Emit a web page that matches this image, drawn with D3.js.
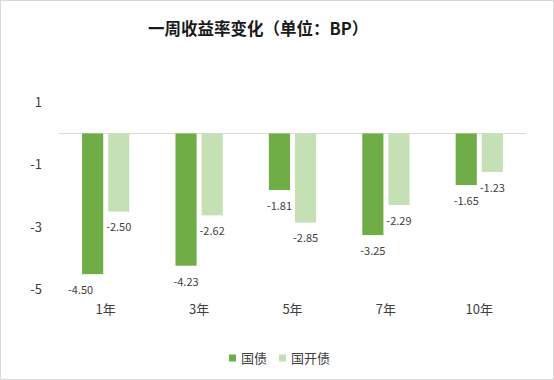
<!DOCTYPE html>
<html><head><meta charset="utf-8">
<script src="https://cdn.jsdelivr.net/npm/d3@7"></script>
<style>body{margin:0;background:#fff;}svg{display:block;}</style>
</head><body>
<script>
const categories = ["1年","3年","5年","7年","10年"];
const seriesNames = ["国债","国开债"];
const guozhai = [-4.50,-4.23,-1.81,-3.25,-1.65];
const guokaizhai = [-2.50,-2.62,-2.85,-2.29,-1.23];
const yTicks = [-5,-3,-1,1];
const colors = ["#70AD47","#C5E0B4"];
const title = "一周收益率变化（单位：BP）";

const W=554,H=380;
const font = "'Noto Sans CJK SC', 'Microsoft YaHei', sans-serif";
const svg = d3.select("body").append("svg").attr("width",W).attr("height",H);
svg.append("rect").attr("x",0.5).attr("y",0.5).attr("width",W-1).attr("height",H-1)
  .attr("fill","#fff").attr("stroke","#d9d9d9");

svg.append("text").attr("x",148).attr("y",35).attr("text-anchor","start")
  .attr("font-family",font).attr("font-weight","bold").attr("font-size",16.5).attr("fill","#1a1a1a").text(title);

const hy = s => s.replace("\u2212","-");
const x0 = d3.scaleBand().domain(categories).range([59,526]).paddingInner(0.494).paddingOuter(0.247);
const x1 = d3.scaleBand().domain(seriesNames).range([0,x0.bandwidth()]).paddingInner(0.19);
const y = d3.scaleLinear().domain([-5,1]).range([289.8,102.2]);

// zero line
svg.append("line").attr("x1",59).attr("x2",526).attr("y1",y(0)).attr("y2",y(0)).attr("stroke","#d9d9d9").attr("stroke-width",1);

// y axis labels
const yAxis = d3.axisLeft(y).tickValues(yTicks).tickSize(0).tickPadding(0).tickFormat(d=>hy(d3.format("d")(d)));
const gy = svg.append("g").attr("transform","translate(42,0)").call(yAxis);
gy.select(".domain").remove();
gy.selectAll("text").attr("font-family",font).attr("font-size",13).attr("fill","#404040");

// x axis labels
const xAxis = d3.axisBottom(x0.copy().paddingInner(0).paddingOuter(0)).tickSize(0).tickPadding(0);
const gx = svg.append("g").attr("transform","translate(0,305)").call(xAxis);
gx.select(".domain").remove();
gx.selectAll("text").attr("font-family",font).attr("font-size",13).attr("fill","#404040");

const series = [guozhai, guokaizhai];
const data = [];
categories.forEach((c,i)=>series.forEach((s,j)=>data.push({c, name:seriesNames[j], v:s[i], j})));

svg.append("g").selectAll("rect").data(data).join("rect")
  .attr("x",d=>x0(d.c)+x1(d.name)).attr("width",x1.bandwidth())
  .attr("y",d=>y(Math.max(0,d.v))).attr("height",d=>Math.abs(y(d.v)-y(0)))
  .attr("fill",d=>colors[d.j]);

svg.append("g").selectAll("text").data(data).join("text")
  .attr("x",d=>x0(d.c)+x1(d.name)+x1.bandwidth()/2 - (y(d.v)+20>y(-5)+3 ? 12 : 0))
  .attr("y",d=>y(d.v)+16).attr("dy","0.35em").attr("text-anchor","middle")
  .attr("font-family",font).attr("font-size",11).attr("fill","#404040")
  .text(d=>hy(d3.format(".2f")(d.v)));

// legend
const leg = svg.append("g").attr("transform","translate(229,358)");
const legX=[0,50];
seriesNames.forEach((n,i)=>{
  leg.append("rect").attr("x",legX[i]).attr("y",-3.5).attr("width",7).attr("height",7).attr("fill",colors[i]);
  leg.append("text").attr("x",legX[i]+12).attr("y",0).attr("dy","0.35em")
    .attr("font-family",font).attr("font-size",13).attr("fill","#404040").text(n);
});
</script>
</body></html>
